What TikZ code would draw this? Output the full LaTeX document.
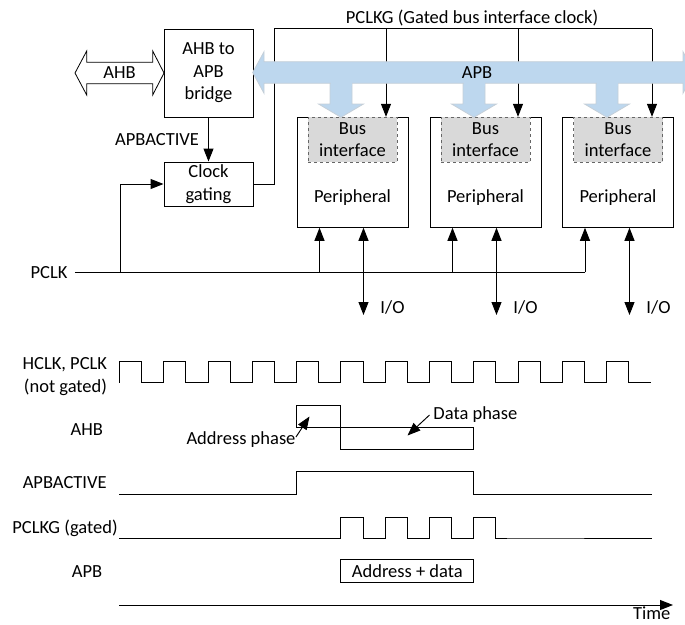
\documentclass[tikz,border=0pt]{standalone}
\usepackage{fontspec}
\setmainfont{Carlito}
\usetikzlibrary{arrows.meta}
\definecolor{apbblue}{HTML}{BDD7EE}
\definecolor{apbedge}{HTML}{C5CFD8}
\definecolor{bifgray}{HTML}{D9D9D9}
\begin{document}
\begin{tikzpicture}[x=1pt,y=-1pt,>={Triangle[length=13pt,width=10pt]},line width=0.95pt,
  every node/.style={font=\fontsize{18.5}{22.5}\selectfont,inner sep=0pt},
  b/.style={draw,align=center,minimum width=89pt},
  per/.style={draw,minimum width=111pt,minimum height=110pt},
  bif/.style={draw=black!60,line width=0.8pt,dashed,fill=bifgray,align=center,minimum width=89pt,minimum height=45pt},
  bus/.style={fill=apbblue,draw=apbedge,line width=0.8pt}]
\useasboundingbox (0,0) rectangle (685,624);
% bridge and clock gating
\node[b,minimum height=88pt] (bridge) at (208.5,73) {AHB to\\APB\\bridge};
\node[b,minimum height=44pt] (gate) at (208.5,184) {Clock\\gating};
\draw[line width=0.8pt,fill=white] (164,73)--(152.7,51)--(152.7,62.2)--(86.7,62.2)--(86.7,51)--(75,73)--(86.7,95)--(86.7,83.8)--(152.7,83.8)--(152.7,95)--cycle;
\node (ahb) at (119.5,73) {AHB};
\draw[->] (bridge)--node[left=9pt]{APBACTIVE}(gate);
% PCLKG to the peripherals
\node (pclkg) at (472,18) {PCLKG (Gated bus interface clock)};
\coordinate (gk) at (274.7,28.5);
\coordinate (pg1) at (386,28.5);
\coordinate (pg2) at (518,28.5);
\coordinate (pg3) at (652,28.5);
\draw (gate.east)-|(gk)--(pg3);
% peripherals
\node[per] (per1) at (352.5,172.3) {};
\node[per] (per2) at (485.5,172.3) {};
\node[per] (per3) at (618,172.3) {};
\draw[->] (pg1)--(pg1 |- per1.north);
\draw[->] (pg2)--(pg2 |- per2.north);
\draw[->] (pg3)--(pg3 |- per3.north);
\node[bif] (bif1) at (352.5,139.7) {Bus\\interface};
\node[bif] (bif2) at (485.5,139.7) {Bus\\interface};
\node[bif] (bif3) at (618,139.7) {Bus\\interface};
\node (perl1) at ([yshift=30pt]per1.south) {Peripheral};
\node (perl2) at ([yshift=30pt]per2.south) {Peripheral};
\node (perl3) at ([yshift=30pt]per3.south) {Peripheral};
% APB bus
\draw[bus] (330,80)--(330,104)--(318.5,104)--(341,117.3)--(363.5,104)--(352,104)--(352,80);
\draw[bus] (463,80)--(463,104)--(451.5,104)--(474,117.3)--(496.5,104)--(485,104)--(485,80);
\draw[bus] (596,80)--(596,104)--(584.5,104)--(607,117.3)--(629.5,104)--(618,104)--(618,80);
\draw[bus] (252.7,72.5)--(264,51.7)--(264,61.7)--(683,61.7)--(683,51.7)--(694,72.5)--(683,93.3)--(683,83.3)--(264,83.3)--(264,93.3)--cycle;
\fill[apbblue] (330.5,81) rectangle (351.5,86);
\fill[apbblue] (463.5,81) rectangle (484.5,86);
\fill[apbblue] (596.5,81) rectangle (617.5,86);
\node (apb) at (477,73) {APB};
% PCLK
\node (pclk) at (49,272.3) {PCLK};
\coordinate (pclkend) at (585,272.3);
\coordinate (gtap) at (120,272.3);
\coordinate (ck1) at (319.5,272.3);
\coordinate (ck2) at (452.5,272.3);
\draw ([xshift=7pt]pclk.east)--(pclkend);
\draw[->] (gtap)|-(gate.west);
\draw[->] (ck1)--(ck1 |- per1.south);
\draw[->] (ck2)--(ck2 |- per2.south);
\draw[->] (pclkend)--(pclkend |- per3.south);
% I/O
\coordinate (io1) at (363.5,315);
\coordinate (io2) at (496.5,315);
\coordinate (io3) at (629.5,315);
\draw[<->] (io1 |- per1.south)--(io1);
\draw[<->] (io2 |- per2.south)--(io2);
\draw[<->] (io3 |- per3.south)--(io3);
\node (iol1) at (392.5,307) {I/O};
\node (iol2) at (525.5,307) {I/O};
\node (iol3) at (658.5,307) {I/O};
% timing
\node[align=right,anchor=east] (hclkl) at (107.5,376.5) {HCLK, PCLK\\(not gated)};
\node (ahbl) at (86.7,430) {AHB};
\node (apbactl) at (64.7,483) {APBACTIVE};
\node (pclkgl) at (65,528) {PCLKG (gated)};
\node (apbl) at (87,572) {APB};
\draw (119.4,382.7) \foreach \k in {0,...,11}{--++(0,-21)--++(22.15,0)--++(0,21)--++(22.15,0)};
\draw (296.6,427.3)--(296.6,405.5)--(340.9,405.5)--(340.9,449.3)--(473.8,449.3)--(473.8,427.3)--cycle;
\node (addrph) at (241,440) {Address phase};
\coordinate (addrpt) at (309.5,416.5);
\draw[->] ([yshift=3pt]addrph.east)--(addrpt);
\node[anchor=west] (dataph) at (433,415) {Data phase};
\coordinate (datapt) at (407.5,435.5);
\draw[->] ([xshift=-3.5pt]dataph.west)--(datapt);
\draw (119.4,494)--(296.6,494)--(296.6,471.7)--(473.8,471.7)--(473.8,494)--(652,494);
\draw (119.4,538)--(340.9,538) \foreach \k in {1,...,4}{--++(0,-21)--++(22.15,0)--++(0,21)--++(22.15,0)}--(652,538);
\node[draw,minimum width=133pt,minimum height=22.7pt] (apbdata) at (407.3,571.3) {Address + data};
\coordinate (tstart) at (119.4,605);
\coordinate (tend) at (673,605);
\draw[->] (tstart)--(tend);
\node (time) at (651.7,613.5) {Time};
\end{tikzpicture}
\end{document}
